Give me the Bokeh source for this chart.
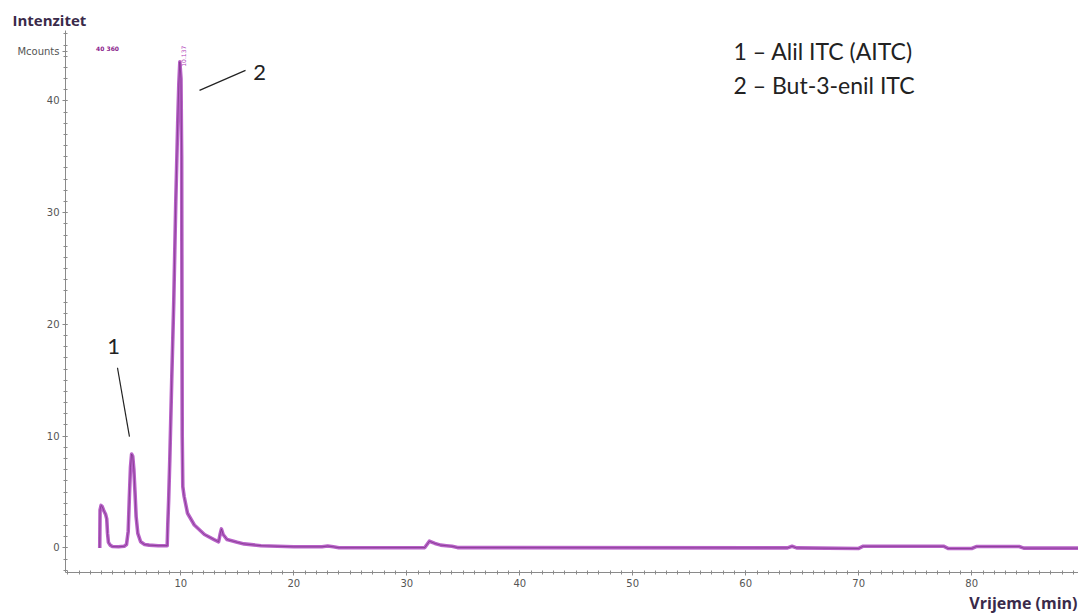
from bokeh.plotting import figure
from bokeh.models import FixedTicker, Label, Range1d, Title
from bokeh.embed import file_html
from bokeh.resources import INLINE

# --- data ---
time_min = [2.83, 2.86, 2.95, 3.05, 3.2, 3.35, 3.45, 3.52, 3.6, 3.75, 3.95, 4.5, 5.0,
            5.2, 5.35, 5.45, 5.55, 5.65, 5.75, 5.85, 5.95, 6.05, 6.2, 6.45, 6.8, 7.2, 8.0, 8.8,
            8.85, 8.93, 9.03, 9.2, 9.38, 9.56, 9.73, 9.83, 9.92, 10.02, 10.08, 10.13, 10.18,
            10.3, 10.6, 11.2, 12.1, 12.95, 13.35, 13.5, 13.6, 13.75, 14.1, 15.0, 15.6, 17.1,
            20.0, 22.5, 23.0, 23.5, 24.0, 31.6, 32.0, 32.5, 33.0, 33.5, 34.0, 34.5,
            63.7, 64.1, 64.5, 70.0, 70.4, 77.5, 77.9, 80.0, 80.4, 84.2, 84.6, 89.5]
intensity = [0.0, 3.4, 3.8, 3.7, 3.3, 3.0, 2.6, 1.3, 0.5, 0.25, 0.12, 0.1, 0.15,
             0.3, 1.5, 4.5, 7.2, 8.4, 8.2, 7.0, 5.0, 2.8, 1.3, 0.55, 0.3, 0.25, 0.2, 0.2,
             2.0, 4.3, 7.9, 15.0, 22.0, 31.0, 38.0, 41.5, 43.5, 42.0, 35.0, 10.0, 5.5,
             4.6, 3.1, 2.05, 1.2, 0.75, 0.55, 1.3, 1.7, 1.2, 0.75, 0.5, 0.36, 0.2,
             0.1, 0.1, 0.17, 0.1, 0.02, 0.03, 0.6, 0.4, 0.25, 0.2, 0.15, 0.03,
             0.0, 0.15, 0.0, -0.05, 0.15, 0.15, -0.05, -0.05, 0.12, 0.12, -0.02, -0.02]

y_ticks = [0, 10, 20, 30, 40]
x_ticks = [10, 20, 30, 40, 50, 60, 70, 80]
unit_tick = 44.4
legend_lines = ["1 \u2013 Alil ITC (AITC)", "2 \u2013 But-3-enil ITC"]

p = figure(width=1078, height=613, output_backend="svg", toolbar_location=None,
           x_range=Range1d(-0.2, 89.45), y_range=Range1d(-2.2, 46.3),
           min_border_left=65, min_border_top=30, min_border_right=0, min_border_bottom=40)
p.outline_line_color = None
p.xgrid.visible = False
p.ygrid.visible = False
p.background_fill_color = "white"

axis_grey = "#8a8a8a"
label_grey = "#555555"
title_color = "#3a2a4a"

# x axis
p.xaxis.ticker = FixedTicker(ticks=x_ticks, minor_ticks=list(range(0, 90)))
p.xaxis.axis_line_color = axis_grey
p.xaxis.major_tick_line_color = axis_grey
p.xaxis.minor_tick_line_color = axis_grey
p.xaxis.major_tick_in = 2
p.xaxis.major_tick_out = 3
p.xaxis.minor_tick_in = 2
p.xaxis.minor_tick_out = 2
p.xaxis.major_label_text_font = "DejaVu Sans"
p.xaxis.major_label_text_font_size = "10px"
p.xaxis.major_label_text_color = label_grey
p.xaxis.major_label_standoff = 3

# y axis
p.yaxis.ticker = FixedTicker(ticks=y_ticks + [unit_tick], minor_ticks=list(range(-2, 47)))
p.yaxis.major_label_overrides = {unit_tick: "Mcounts"}
p.yaxis.axis_line_color = axis_grey
p.yaxis.major_tick_line_color = axis_grey
p.yaxis.minor_tick_line_color = axis_grey
p.yaxis.major_tick_in = 2
p.yaxis.major_tick_out = 3
p.yaxis.minor_tick_in = 2
p.yaxis.minor_tick_out = 2
p.yaxis.major_label_text_font = "DejaVu Sans"
p.yaxis.major_label_text_font_size = "10px"
p.yaxis.major_label_text_color = label_grey
p.yaxis.major_label_standoff = 3

# axis titles
p.add_layout(Title(text="Intenzitet", align="left", offset=-53, text_font="Open Sans",
                   text_font_size="15px", text_font_style="bold",
                   text_color=title_color, standoff=1), "above")
p.add_layout(Title(text="Vrijeme (min)", align="right", offset=1, text_font="Open Sans",
                   text_font_size="16px", text_font_style="bold",
                   text_color=title_color, standoff=0), "below")

# trace
p.line(time_min, intensity, line_color="#b862c8", line_width=3.6, line_join="round")
p.line(time_min, intensity, line_color="#6e2a78", line_width=1.0, line_alpha=0.6,
       line_join="round")

# small instrument annotations
p.add_layout(Label(x=3.52, y=44.69, text="40 360", text_font="DejaVu Sans",
                   text_font_size="6px", text_font_style="bold", text_color="#8b1c8b",
                   text_baseline="middle", text_align="center"))
p.add_layout(Label(x=10.25, y=44.0, text="10.137", text_font="DejaVu Sans",
                   text_font_size="6px", text_color="#b040b8", angle=1.5708,
                   text_baseline="middle", text_align="center"))

# peak labels
p.add_layout(Label(x=4.05, y=18.0, text="1", text_font="Lato", text_font_size="22px",
                   text_color="#222222", text_baseline="middle", text_align="center"))
p.line([4.4, 5.46], [16.12, 9.96], line_color="#222222", line_width=1.2)
p.add_layout(Label(x=16.97, y=42.55, text="2", text_font="Lato", text_font_size="22px",
                   text_color="#222222", text_baseline="middle", text_align="center"))
p.line([11.66, 15.73], [40.94, 42.73], line_color="#222222", line_width=1.2)

for txt, yy in zip(legend_lines, [44.51, 41.39]):
    p.add_layout(Label(x=58.92, y=yy, text=txt, text_font="Lato", text_font_size="23px",
                       text_color="#222222", text_baseline="middle", text_align="left"))

open("out.html", "w").write(file_html(p, INLINE))
